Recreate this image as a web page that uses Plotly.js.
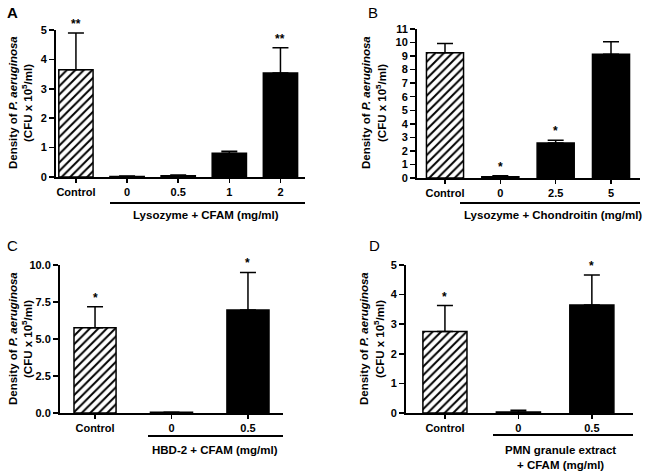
<!DOCTYPE html>
<html><head><meta charset="utf-8">
<script src="https://cdn.plot.ly/plotly-3.0.1.min.js"></script>
<style>html,body{margin:0;padding:0;background:#fff}#c{width:645px;height:471px}</style>
</head><body><div id="c"></div>
<script>
// Panel A
const catsA = ['Control','0','0.5','1','2'];
const valsA = [3.65, 0.02, 0.04, 0.81, 3.54];
const errA  = [1.25, 0.01, 0.03, 0.07, 0.86];
const starsA = ['**','','','','**'];
// Panel B
const catsB = ['Control','0','2.5','5'];
const valsB = [9.25, 0.1, 2.58, 9.13];
const errB  = [0.68, 0.06, 0.21, 0.93];
const starsB = ['','*','*',''];
// Panel C
const catsC = ['Control','0','0.5'];
const valsC = [5.76, 0.05, 6.96];
const errC  = [1.42, 0.0, 2.54];
const starsC = ['*','','*'];
// Panel D
const catsD = ['Control','0','0.5'];
const valsD = [2.75, 0.03, 3.65];
const errD  = [0.88, 0.06, 1.01];
const starsD = ['*','','*'];

const yTitle1 = 'Density of <i>P. aeruginosa</i>';
const yTitle2 = '(CFU x 10<sup>5</sup>/ml)';
const groupA = 'Lysozyme + CFAM (mg/ml)';
const groupB = 'Lysozyme + Chondroitin (mg/ml)';
const groupC = 'HBD-2 + CFAM (mg/ml)';
const groupD = 'PMN granule extract<br>+ CFAM (mg/ml)';

const W = 645, H = 471;
const FF = 'Liberation Sans, Arial, Helvetica, sans-serif';
const px = v => v / W;
const py = v => 1 - v / H;

function barTraces(cats, vals, errs, xa, ya, width) {
  const err = (e) => ({type: 'data', symmetric: false, array: e, arrayminus: e.map(() => 0),
    color: 'black', thickness: 1.5, width: 8});
  const idx = cats.map((c, i) => i);
  const ctrl = {
    type: 'bar', x: [idx[0]], y: [vals[0]], xaxis: xa, yaxis: ya, width: width,
    marker: {color: 'white', line: {color: 'black', width: 1.5},
      pattern: {shape: '/', fgcolor: 'black', bgcolor: 'white', size: 6, solidity: 0.33, fillmode: 'replace'}},
    error_y: err([errs[0]]), hoverinfo: 'skip', showlegend: false
  };
  const rest = {
    type: 'bar', x: idx.slice(1), y: vals.slice(1), xaxis: xa, yaxis: ya, width: width,
    marker: {color: 'black', line: {color: 'black', width: 1.5}},
    error_y: err(errs.slice(1)), hoverinfo: 'skip', showlegend: false
  };
  return [ctrl, rest];
}

const traces = [].concat(
  barTraces(catsA, valsA, errA, 'x', 'y', 0.67),
  barTraces(catsB, valsB, errB, 'x2', 'y2', 0.67),
  barTraces(catsC, valsC, errC, 'x3', 'y3', 0.55),
  barTraces(catsD, valsD, errD, 'x4', 'y4', 0.6)
);

function xax(cats, d0, d1, range, anchor) {
  return {domain: [px(d0), px(d1)], range: range, anchor: anchor, type: 'linear',
    tickmode: 'array', tickvals: cats.map((c, i) => i), ticktext: cats,
    showline: true, linewidth: 2, linecolor: 'black', ticks: 'outside', ticklen: 4, tickwidth: 1.5,
    tickcolor: 'black', showgrid: false, zeroline: false, fixedrange: true,
    tickfont: {family: FF, size: 11, color: 'black', weight: 'bold'}};
}
function yax(top, bot, range, dtick, fmt, anchor) {
  return {domain: [py(bot), py(top)], range: range, anchor: anchor, dtick: dtick, tick0: 0,
    tickformat: fmt, showline: true, linewidth: 2, linecolor: 'black', ticks: 'outside',
    ticklen: 5, tickwidth: 1.5, tickcolor: 'black', showgrid: false, zeroline: false, fixedrange: true,
    tickfont: {family: FF, size: 11, color: 'black', weight: 'bold'}};
}

const annotations = [];
function stars(cats, vals, errs, st, xa, ya) {
  cats.forEach((c, i) => {
    if (st[i]) annotations.push({xref: xa, yref: ya, x: i, y: vals[i] + errs[i], text: st[i],
      showarrow: false, yanchor: 'bottom', yshift: 0,
      font: {family: FF, size: 12, color: 'black', weight: 'bold'}});
  });
}
stars(catsA, valsA, errA, starsA, 'x', 'y');
stars(catsB, valsB, errB, starsB, 'x2', 'y2');
stars(catsC, valsC, errC, starsC, 'x3', 'y3');
stars(catsD, valsD, errD, starsD, 'x4', 'y4');

function ytitle(x1, x2, yc) {
  [[x1, yTitle1], [x2, yTitle2]].forEach(([x, t]) => annotations.push({xref: 'paper', yref: 'paper',
    x: px(x), y: py(yc), text: t, textangle: -90, showarrow: false, xanchor: 'center', yanchor: 'middle',
    font: {family: FF, size: 11.5, color: 'black', weight: 'bold'}}));
}
ytitle(13, 27, 103);
ytitle(366, 381, 103);
ytitle(13, 27, 339);
ytitle(364, 379, 339);

function label(x, y, t, size, weight) {
  annotations.push({xref: 'paper', yref: 'paper', x: px(x), y: py(y), text: t, showarrow: false,
    xanchor: 'center', yanchor: 'middle', font: {family: FF, size: size, color: 'black', weight: weight}});
}
label(12, 13, 'A', 15, 'bold');
label(373, 13, 'B', 15, 'normal');
label(12, 245, 'C', 15, 'normal');
label(374, 245, 'D', 15, 'normal');
label(206, 215, groupA, 11.5, 'bold');
label(553, 215, groupB, 11.5, 'bold');
label(215, 450, groupC, 11.5, 'bold');
label(560, 457, groupD, 11.5, 'bold');

const shapes = [
  [110, 305, 203], [460, 640, 203], [148, 283, 436], [493, 633, 435]
].map(([a, b, y]) => ({type: 'line', xref: 'paper', yref: 'paper', x0: px(a), x1: px(b), y0: py(y), y1: py(y),
  line: {color: 'black', width: 2}}));

const layout = {
  width: W, height: H, margin: {l: 0, r: 0, t: 0, b: 0},
  paper_bgcolor: 'white', plot_bgcolor: 'white', showlegend: false, barmode: 'overlay',
  font: {family: FF, color: 'black'},
  xaxis: xax(catsA, 56, 305, [-0.39, 4.48], 'y'),
  yaxis: yax(30, 177, [0, 5], 1, 'd', 'x'),
  xaxis2: xax(catsB, 417, 640, [-0.506, 3.524], 'y2'),
  yaxis2: yax(29, 178, [0, 11], 1, 'd', 'x2'),
  xaxis3: xax(catsC, 60, 283, [-0.458, 2.458], 'y3'),
  yaxis3: yax(265, 413, [0, 10], 2.5, '.1f', 'x3'),
  xaxis4: xax(catsD, 406, 633, [-0.53, 2.56], 'y4'),
  yaxis4: yax(265, 413, [0, 5], 1, 'd', 'x4'),
  annotations: annotations, shapes: shapes
};
Plotly.newPlot('c', traces, layout, {staticPlot: true, displayModeBar: false});
</script></body></html>
